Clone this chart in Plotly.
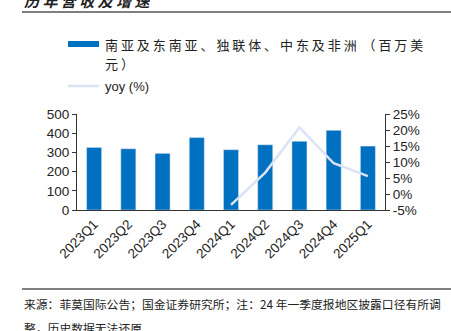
import plotly.graph_objects as go

categories = ["2023Q1", "2023Q2", "2023Q3", "2023Q4", "2024Q1", "2024Q2", "2024Q3", "2024Q4", "2025Q1"]
revenue = [326, 319, 295, 377, 314, 340, 358, 415, 333]
yoy = [None, None, None, None, -3.4, 6.7, 20.8, 9.6, 5.6]
left_ticks = [0, 100, 200, 300, 400, 500]
right_ticks = [-5, 0, 5, 10, 15, 20, 25]

BAR = "#0070C0"
LINE = "#DAE3F3"
FONT = "Liberation Sans, Arial, Noto Sans CJK SC, sans-serif"
CJK = "Noto Sans CJK SC, sans-serif"

W, H = 451, 331
L, R, T, B = 77, 385, 114, 210

def px(x):
    return (x - L) / (R - L)

def py(y):
    return (B - y) / (B - T)

fig = go.Figure()
fig.add_trace(go.Bar(x=categories, y=revenue, marker_color=BAR, width=0.44,
                     name="南亚及东南亚、独联体、中东及非洲 （百万美元）", showlegend=False))
fig.add_trace(go.Scatter(x=categories, y=yoy, yaxis="y2", mode="lines",
                         line=dict(color=LINE, width=2.5), name="yoy (%)",
                         showlegend=False, connectgaps=False))

shapes = [
    dict(type="rect", xref="paper", yref="paper", x0=px(68), x1=px(99), y0=py(47), y1=py(41),
         fillcolor=BAR, line=dict(width=0)),
    dict(type="line", xref="paper", yref="paper", x0=px(68), x1=px(99), y0=py(86), y1=py(86),
         line=dict(color=LINE, width=2.5)),
    dict(type="line", xref="paper", yref="paper", x0=px(22), x1=px(451), y0=py(12), y1=py(12),
         line=dict(color="black", width=1.2)),
    dict(type="line", xref="paper", yref="paper", x0=px(22), x1=px(451), y0=py(289), y1=py(289),
         line=dict(color="black", width=1.2)),
]

annotations = [
    dict(xref="paper", yref="paper", x=px(103), y=py(44), xanchor="left", yanchor="middle",
         text="南 亚 及 东 南 亚 、 独 联 体 、 中 东 及 非 洲  （ 百 万 美", showarrow=False,
         font=dict(family=CJK, size=13, color="#222")),
    dict(xref="paper", yref="paper", x=px(103), y=py(63), xanchor="left", yanchor="middle",
         text="元 ）", showarrow=False, font=dict(family=CJK, size=13, color="#222")),
    dict(xref="paper", yref="paper", x=px(103), y=py(86), xanchor="left", yanchor="middle",
         text="yoy (%)", showarrow=False, font=dict(family=FONT, size=13, color="#222")),
    dict(xref="paper", yref="paper", x=px(22), y=py(1), xanchor="left", yanchor="middle",
         text="<b><i>历 年 营 收 及 增 速</i></b>", showarrow=False,
         font=dict(family=CJK, size=15, color="#222")),
    dict(xref="paper", yref="paper", x=px(22), y=py(303), xanchor="left", yanchor="middle",
         text="来源：菲莫国际公告；国金证券研究所；注：24 年一季度报地区披露口径有所调", showarrow=False,
         font=dict(family=CJK, size=11.8, color="#222")),
    dict(xref="paper", yref="paper", x=px(22), y=py(327), xanchor="left", yanchor="middle",
         text="整，历史数据无法还原", showarrow=False,
         font=dict(family=CJK, size=11.8, color="#222")),
]

fig.update_layout(
    width=W, height=H,
    margin=dict(l=L, r=W - R, t=T, b=H - B, pad=0),
    paper_bgcolor="white", plot_bgcolor="white",
    font=dict(family=FONT, size=13, color="#222"),
    bargap=0.56,
    xaxis=dict(tickangle=-45, showline=True, linecolor="#333", linewidth=1,
               ticks="", showgrid=False, tickfont=dict(size=13.5)),
    yaxis=dict(range=[0, 500], tickvals=left_ticks, showline=True, linecolor="#333",
               linewidth=1, ticks="outside", ticklen=4, tickcolor="#333",
               showgrid=False, zeroline=False, tickfont=dict(size=13.5)),
    yaxis2=dict(range=[-5, 25], tickvals=right_ticks, ticktext=[f"{v}%" for v in right_ticks],
                overlaying="y", side="right", showline=True, linecolor="#333", linewidth=1,
                ticks="outside", ticklen=4, tickcolor="#333", showgrid=False, zeroline=False,
                tickfont=dict(size=13.5)),
    shapes=shapes, annotations=annotations, showlegend=False,
)

fig.write_html("out.html")
